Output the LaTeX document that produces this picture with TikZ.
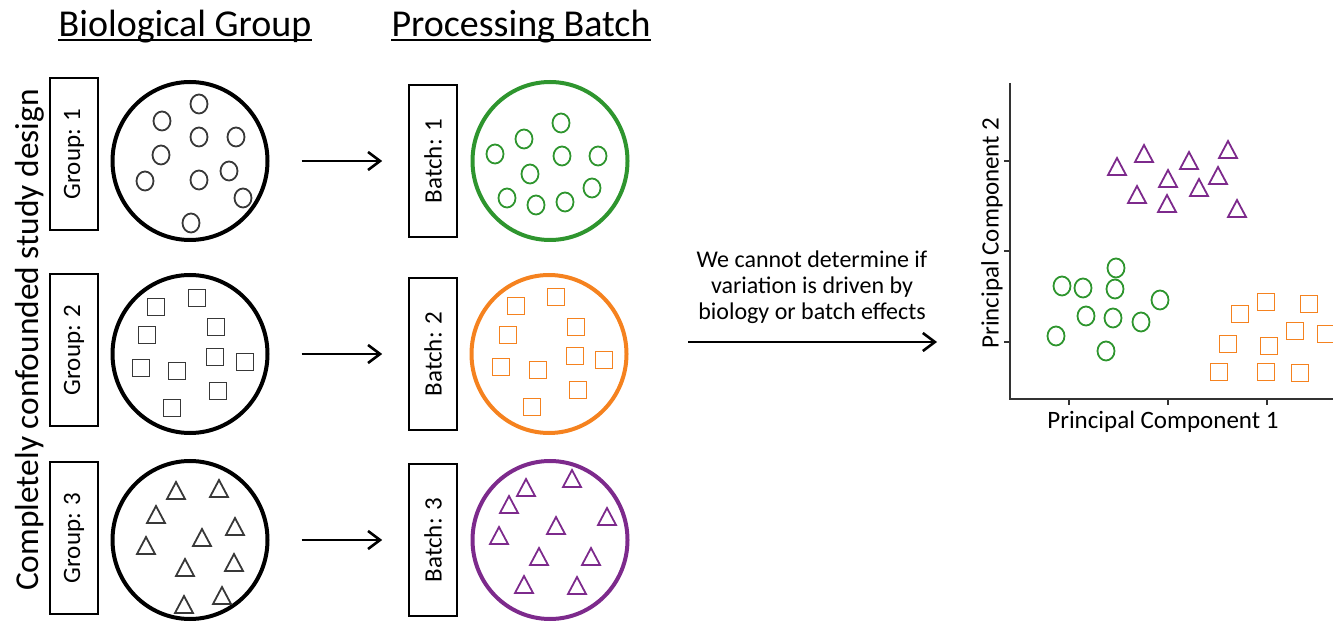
\documentclass[tikz,border=0pt]{standalone}
\usepackage{fontspec}
\setmainfont{Carlito}
\usepackage{tikz}
\usetikzlibrary{arrows.meta,positioning,shapes.geometric}
\definecolor{BatchGreen}{HTML}{2E952E}
\definecolor{BatchOrange}{HTML}{F5821F}
\definecolor{BatchPurple}{HTML}{7D2A8C}
\definecolor{MarkGray}{HTML}{383838}
\tikzset{
  ring/.pic={\draw[pic actions] (0,0) ellipse [x radius=8.5, y radius=9.5];},
  sqr/.pic={\draw[pic actions] (-8.5,-8.5) rectangle (8.5,8.5);},
  tri/.pic={\draw[pic actions] (-9,8) -- (9,8) -- (0,-9) -- cycle;},
}

\begin{document}
\begin{tikzpicture}[x=0.5pt,y=-0.5pt,
    title/.style={font=\fontsize{19}{22}\selectfont, inner sep=0pt, anchor=base},
    labelbox/.style={draw, line width=0.8pt, minimum width=24pt, minimum height=76pt,
      inner sep=0pt, font=\fontsize{12.5}{14}\selectfont},
    sample/.style={ellipse, draw, line width=2pt, minimum width=77.5pt,
      minimum height=79pt, inner sep=0pt},
    mk/.style={line width=0.9pt},
    arr/.style={-{Straight Barb[length=6pt,width=9pt]}, line width=1.3pt},
    lab/.style={font=\fontsize{12.5}{14}\selectfont, inner sep=0pt}]
  \useasboundingbox (0,0) rectangle (1333,625);

  % column titles
  \node[title] (tbio) at (185,36.5) {Biological Group};
  \node[title] (tbatch) at (521,36.5) {Processing Batch};
  \draw[line width=1pt] ([yshift=-2pt]tbio.base west) -- ([yshift=-2pt]tbio.base east);
  \draw[line width=1pt] ([yshift=-2pt]tbatch.base west) -- ([yshift=-2pt]tbatch.base east);
  \node[rotate=90, anchor=base, font=\fontsize{16.7}{20}\selectfont, inner sep=0pt]
    (design) at (39,340) {Completely confounded study design};

  % groups and batches
  \node[labelbox] (grp1) at (74,154) {\rotatebox{90}{Group: 1}};
  \node[labelbox] (grp2) at (74,350) {\rotatebox{90}{Group: 2}};
  \node[labelbox] (grp3) at (74,538) {\rotatebox{90}{Group: 3}};
  \node[sample] (g1) at (190,161) {};
  \node[sample] (g2) at (190,354) {};
  \node[sample] (g3) at (190,540) {};
  \node[labelbox] (bat1) at (433,161) {\rotatebox{90}{Batch: 1}};
  \node[labelbox] (bat2) at (433,354) {\rotatebox{90}{Batch: 2}};
  \node[labelbox] (bat3) at (433,540) {\rotatebox{90}{Batch: 3}};
  \node[sample, BatchGreen] (b1) at (550,161) {};
  \node[sample, BatchOrange] (b2) at (549,354) {};
  \node[sample, BatchPurple] (b3) at (550,540) {};
  \foreach \i in {1,2,3}
    \draw[arr, shorten <=16pt, shorten >=13pt] (g\i) -- (bat\i);

  % samples inside the circles
  \foreach \p in {(199,104),(162,121),(199,137),(236,137),(161,155),(229,171),
      (199,180),(145,181),(243,198),(191,223)}
    \pic[MarkGray, mk] at \p {ring};
  \foreach \p in {(561,123),(524,139),(495,154),(562,156),(598,156),(530,174),
      (592,188),(507,198),(536,205),(565,202)}
    \pic[BatchGreen, mk] at \p {ring};
  \foreach \p in {(156,307),(197,298),(216,327),(147,335),(215,357),(245,362),
      (141,368),(177,371),(218,391),(172,408)}
    \pic[MarkGray, mk] at \p {sqr};
  \foreach \p in {(516,306),(556,297),(576,327),(508,335),(575,356),(604,360),
      (501,367),(538,370),(578,390),(532,407)}
    \pic[BatchOrange, mk] at \p {sqr};
  \foreach \p in {(176,491),(219,489),(156,515),(235,527),(202,538),(146,546),
      (185,568),(234,563),(222,596),(184,605)}
    \pic[MarkGray, mk] at \p {tri};
  \foreach \p in {(526,488),(572,479),(509,505),(607,517),(556,526),(499,536),
      (539,557),(591,557),(524,585),(577,586)}
    \pic[BatchPurple, mk] at \p {tri};

  % conclusion
  \node[lab, align=center, font=\fontsize{12}{13}\selectfont] (note) at (812,287)
    {We cannot determine if\\variation is driven by\\biology or batch effects};
  \coordinate (noteL) at (688,342);
  \coordinate (noteR) at (937,342);
  \draw[arr] (noteL) -- (noteR);

  % PCA plot
  \coordinate (origin) at (1010,399);
  \draw[line width=0.8pt, black!80] (1010,83) -- (origin) -- (1340,399);
  \foreach \y in {161,251,342}
    \draw[line width=0.7pt, black!80] (1010,\y) -- (1004,\y);
  \foreach \x in {1069,1168,1267}
    \draw[line width=0.7pt, black!80] (\x,399) -- (\x,405);
  \node[lab] (pc1) at (1163,422) {Principal Component 1};
  \node[lab, rotate=90] (pc2) at (992,233) {Principal Component 2};
  \foreach \p in {(1117,167),(1144,154),(1189,161),(1228,150),(1168,179),
      (1218,176),(1199,188),(1137,195),(1167,204),(1237,209)}
    \pic[BatchPurple, mk] at \p {tri};
  \foreach \p in {(1062,286),(1083,288),(1116,268),(1115,289),(1160,300),
      (1086,316),(1113,318),(1141,322),(1056,336),(1106,351)}
    \pic[BatchGreen, mk] at \p {ring};
  \foreach \p in {(1266,302),(1309,304),(1240,314),(1295,331),(1326,334),
      (1228,344),(1269,346),(1219,372),(1266,372),(1300,373)}
    \pic[BatchOrange, mk] at \p {sqr};
\end{tikzpicture}
\end{document}
